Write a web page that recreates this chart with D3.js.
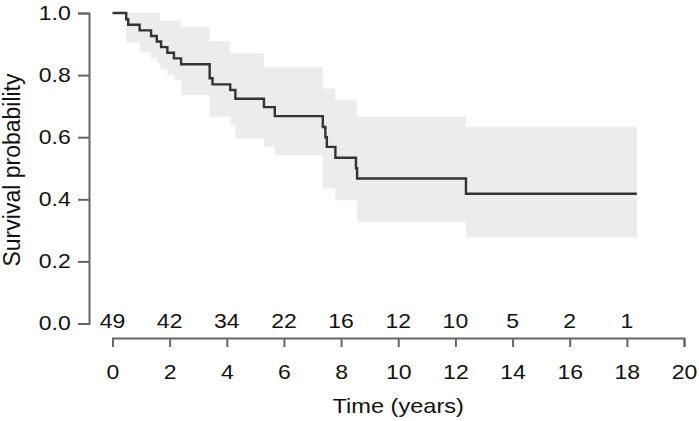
<!DOCTYPE html>
<html><head><meta charset="utf-8">
<script src="https://cdn.jsdelivr.net/npm/d3@7"></script>
<style>
body{margin:0;background:#fff}
text{font-family:"Liberation Sans",Arial,Helvetica,sans-serif;fill:#111}
</style>
</head><body>
<svg id="chart" width="699" height="421"></svg>
<script>
// Kaplan-Meier step data (time in years, survival probability)
const stepTimes = [0, 0.48, 0.55, 0.95, 1.35, 1.55, 1.7, 1.92, 2.15, 2.4, 3.4, 3.5, 4.12, 4.3, 5.3, 5.68, 7.36, 7.45, 7.5, 7.8, 8.52, 8.56, 12.37];
const survival  = [1, 0.98, 0.962, 0.944, 0.926, 0.908, 0.89, 0.872, 0.854, 0.835, 0.79, 0.77, 0.752, 0.724, 0.697, 0.668, 0.633, 0.6, 0.569, 0.534, 0.5, 0.467, 0.418];
// Confidence band (step-wise)
const bandTimes = [0, 0.48, 0.95, 1.35, 1.55, 1.66, 1.92, 2.15, 2.4, 3.4, 4.12, 4.3, 5.3, 5.68, 7.36, 7.8, 8.55, 12.37];
const upperCI   = [1, 1, 1, 1, 1, 0.975, 0.975, 0.975, 0.955, 0.91, 0.87, 0.87, 0.825, 0.825, 0.757, 0.72, 0.666, 0.633];
const lowerCI   = [1, 0.905, 0.875, 0.855, 0.84, 0.82, 0.80, 0.785, 0.735, 0.666, 0.64, 0.596, 0.569, 0.542, 0.435, 0.397, 0.327, 0.277];
const endTime = 18.35;
// Number at risk
const riskTimes = [0, 2, 4, 6, 8, 10, 12, 14, 16, 18];
const atRisk    = [49, 42, 34, 22, 16, 12, 10, 5, 2, 1];
// Ticks
const xTicks = [0, 2, 4, 6, 8, 10, 12, 14, 16, 18, 20];
const yTicks = [0, 0.2, 0.4, 0.6, 0.8, 1.0];

const SX = 1.15; // horizontal text stretch
const svg = d3.select("#chart");
const x = d3.scaleLinear().domain([0, 20]).range([112.5, 684]);
const y = d3.scaleLinear().domain([0, 1]).range([323.5, 13]);

// band
const bandPts = bandTimes.map((t, i) => ({t, u: upperCI[i], l: lowerCI[i]}));
bandPts.push({t: endTime, u: upperCI[upperCI.length - 1], l: lowerCI[lowerCI.length - 1]});
svg.append("path")
  .datum(bandPts)
  .attr("fill", "#ececec")
  .attr("d", d3.area().curve(d3.curveStepAfter).x(d => x(d.t)).y0(d => y(d.l)).y1(d => y(d.u)));

// curve
const curvePts = stepTimes.map((t, i) => ({t, s: survival[i]}));
curvePts.push({t: endTime, s: survival[survival.length - 1]});
svg.append("path")
  .datum(curvePts)
  .attr("fill", "none")
  .attr("stroke", "#333")
  .attr("stroke-width", 2.4)
  .attr("d", d3.line().curve(d3.curveStepAfter).x(d => x(d.t)).y(d => y(d.s)));

// y axis
const gy = svg.append("g").attr("transform", "translate(89,0)")
  .call(d3.axisLeft(y).tickValues(yTicks).tickFormat(d3.format(".1f")).tickSize(11).tickPadding(7));
gy.selectAll("text").attr("x", -18.3 / SX).attr("transform", `scale(${SX},1)`).style("font-size", "20px");

// x axis
const gx = svg.append("g").attr("transform", "translate(0,338)")
  .call(d3.axisBottom(x).tickValues(xTicks).tickSize(9).tickPadding(18));
gx.selectAll("text").attr("transform", `scale(${SX},1)`).style("font-size", "20px");

[gx, gy].forEach(g => {
  g.select(".domain").attr("stroke", "#666").attr("stroke-width", 2);
  g.selectAll(".tick line").attr("stroke", "#666").attr("stroke-width", 2);
  g.selectAll("text").attr("fill", "#111");
});

// number at risk
svg.append("g").selectAll("text")
  .data(riskTimes)
  .join("text")
  .attr("transform", d => `translate(${x(d)},328) scale(${SX},1)`)
  .attr("text-anchor", "middle")
  .style("font-size", "20px")
  .text((d, i) => atRisk[i]);

// axis titles
svg.append("text")
  .attr("transform", `translate(${x(10)},413) scale(${SX},1)`)
  .attr("text-anchor", "middle")
  .style("font-size", "20.5px")
  .text("Time (years)");

svg.append("text")
  .attr("transform", `translate(19.5,170) rotate(-90)`)
  .attr("text-anchor", "middle")
  .style("font-size", "23px")
  .text("Survival probability");
</script>
</body></html>
